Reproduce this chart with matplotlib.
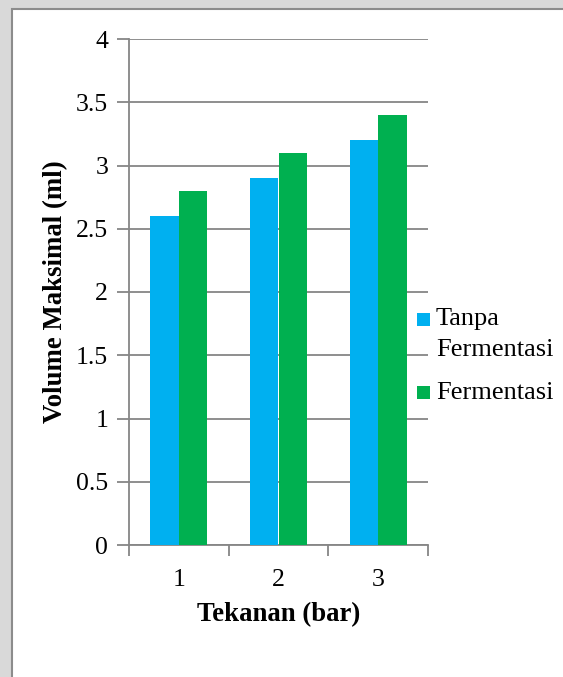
import numpy as np
import matplotlib.pyplot as plt
from matplotlib.patches import Rectangle

tekanan = ['1', '2', '3']
tanpa_fermentasi = [2.6, 2.9, 3.2]
fermentasi = [2.8, 3.1, 3.4]
seri = ['Tanpa\nFermentasi', 'Fermentasi']
warna = ['#00b0f0', '#00b050']

plt.rcParams['font.family'] = ['Liberation Serif', 'DejaVu Serif']

fig = plt.figure(figsize=(5.63, 6.77), dpi=100, facecolor='#d9d9d9')
# kotak putih grafik
fig.patches.append(Rectangle((12 / 563, -0.01), 1.0, 1 - 9 / 677 + 0.01,
                             transform=fig.transFigure, facecolor='white',
                             edgecolor='#8c8c8c', linewidth=1.5, zorder=-10))

ax = fig.add_axes([129 / 563, 132 / 677, 299 / 563, 506 / 677])
ax.set_facecolor('white')

x = np.arange(len(tekanan))
w = 0.285
ax.bar(x - w / 2, tanpa_fermentasi, w, color=warna[0], zorder=3)
ax.bar(x + w / 2, fermentasi, w, color=warna[1], zorder=3)

ax.set_xlim(-0.5, 2.5)
ax.set_ylim(0, 4)
ax.set_yticks(np.arange(0, 4.01, 0.5))
ax.set_yticklabels(['0', '0.5', '1', '1.5', '2', '2.5', '3', '3.5', '4'])
ax.set_xticks(x)
ax.set_xticklabels(tekanan)
ax.set_xticks([-0.5, 0.5, 1.5, 2.5], minor=True)

ax.yaxis.grid(True, color='#868686', linewidth=1.3, zorder=0)
for s in ['top', 'right']:
    ax.spines[s].set_visible(False)
for s in ['left', 'bottom']:
    ax.spines[s].set_color('#868686')
    ax.spines[s].set_linewidth(1.3)

ax.tick_params(axis='y', which='major', length=9, width=1.3, color='#868686',
               labelsize=18.5, pad=6)
ax.tick_params(axis='x', which='major', length=0, labelsize=18.5, pad=17)
ax.tick_params(axis='x', which='minor', length=8, width=1.3, color='#868686')

ax.set_xlabel('Tekanan (bar)', fontsize=19.3, fontweight='bold', labelpad=8)
ax.set_ylabel('Volume Maksimal (ml)', fontsize=19.3, fontweight='bold', labelpad=6)

# legenda (kotak warna + teks, seperti Excel)
leg_y = [326, 399]  # baseline baris pertama tiap entri, piksel dari atas
for lbl, c, yb in zip(seri, warna, leg_y):
    fig.add_artist(Rectangle((417 / 563, (677 - yb) / 677), 13 / 563, 13 / 677,
                             transform=fig.transFigure, facecolor=c, edgecolor='none'))
    # va='baseline' memakai baris terakhir, jadi geser sesuai jumlah baris
    y_last = yb + 30 * lbl.count('\n')
    fig.text(436 / 563, (677 - y_last) / 677, lbl, fontsize=19, va='baseline',
             ha='left', linespacing=1.5)

fig.savefig('out.png', dpi=100, facecolor=fig.get_facecolor())
